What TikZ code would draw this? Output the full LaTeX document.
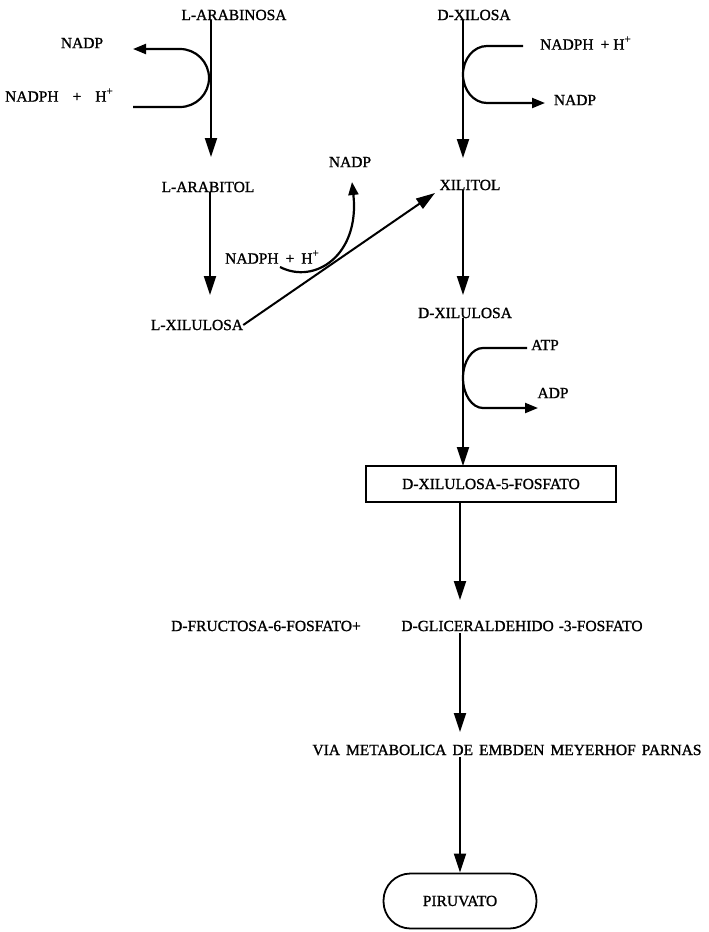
\documentclass[tikz,border=0pt]{standalone}
\usepackage{fontspec}
\setmainfont{Liberation Serif}[BoldFont=Liberation Serif, BoldFeatures={FakeBold=1.2}]
\usetikzlibrary{arrows.meta}
\newcommand{\wsp}{\hspace{6pt}}
\newcommand{\supplus}{\raisebox{7pt}{\fontsize{11}{11}\selectfont+}}
\begin{document}
\begin{tikzpicture}[x=1pt,y=1pt,
  lbl/.style={inner sep=0pt, font=\fontsize{15.5}{18}\selectfont\bfseries},
  arr/.style={line width=2pt, -{Triangle[length=19pt,width=12pt]}},
  sarr/.style={line width=2.2pt, -{Triangle[length=13pt,width=10pt]}},
  boxst/.style={lbl, draw, line width=1.8pt},
  ]
\useasboundingbox (0,0) rectangle (709,-932);
% main labels
\node[lbl] (arabinosa) at (234,-15) {L-ARABINOSA};
\node[lbl] (arabitol)  at (208,-187) {L-ARABITOL};
\node[lbl] (lxil)      at (197,-325) {L-XILULOSA};
\node[lbl] (xilosa)    at (474,-15) {D-XILOSA};
\node[lbl] (xilitol)   at (470,-185) {XILITOL};
\node[lbl] (dxil)      at (465,-313) {D-XILULOSA};
\node[boxst, minimum width=250pt, minimum height=36pt] (x5p) at (491,-484) {D-XILULOSA-5-FOSFATO};
\node[lbl] (fruc)      at (266,-626) {D-FRUCTOSA-6-FOSFATO+};
\node[lbl] (glic)      at (522,-626) {D-GLICERALDEHIDO\hspace{5pt}-3-FOSFATO};
\node[lbl] (via) at (507,-750) {VIA\wsp METABOLICA\wsp DE\wsp EMBDEN\wsp MEYERHOF\wsp PARNAS};
\node[boxst, rounded corners=27pt, minimum width=153pt, minimum height=55pt] (pir) at (460,-901) {PIRUVATO};
% cofactor labels
\node[lbl] (nadp1) at (82,-43) {NADP};
\node[lbl, anchor=west] (nadph1) at (5,-95) {NADPH\hspace{14pt}+\hspace{14pt}H\supplus};
\node[lbl, anchor=west] (nadph2) at (540,-43) {NADPH\hspace{7pt}+\hspace{4pt}H\supplus};
\node[lbl] (nadp2) at (575,-100) {NADP};
\node[lbl] (nadp3) at (350,-162) {NADP};
\node[lbl, anchor=west] (nadph3) at (225,-257) {NADPH\hspace{7pt}+\hspace{7pt}H\supplus};
\node[lbl] (atp) at (545,-345) {ATP};
\node[lbl] (adp) at (553,-393) {ADP};
% tip coordinates
\coordinate (t1) at (211,-157);
\coordinate (t2) at (210,-295);
\coordinate (t3) at (463,-158);
\coordinate (t4) at (463,-295);
\coordinate (t5) at (463,-466);
\coordinate (t6) at (460,-600);
\coordinate (t7) at (460,-732);
\coordinate (t9) at (435,-193);
% main arrows
\draw[arr] (arabinosa.south -| t1) -- (t1);
\draw[arr] (arabitol.south -| t2) -- (t2);
\draw[arr] (lxil.east) -- (t9);
\draw[arr] (xilosa.south -| t3) -- (t3);
\draw[arr] (xilitol.south -| t4) -- (t4);
\draw[arr] (dxil.south -| t5) -- (t5);
\draw[arr] (x5p.south -| t6) -- (t6);
\draw[arr] ([yshift=-2pt]glic.south -| t7) -- (t7);
\draw[arr] ([yshift=-2pt]via.south -| t7) -- (pir.north -| t7);
% cofactor arrows
\coordinate (c1s) at (133,-107);
\coordinate (c1e) at (133,-49);
\draw[sarr] (c1s) -- (180,-107) arc[start angle=-90,end angle=90,radius=29] -- (c1e);
\coordinate (c2s) at (523,-46);
\coordinate (c2e) at (545,-103);
\draw[sarr] (c2s) -- (487,-46) arc[start angle=90,end angle=270,x radius=24,y radius=28.5] -- (c2e);
\coordinate (c3s) at (527,-348);
\coordinate (c3e) at (538,-408);
\draw[sarr] (c3s) -- (483,-348) arc[start angle=90,end angle=270,x radius=20,y radius=30] -- (c3e);
\coordinate (c4s) at (280,-267);
\coordinate (c4e) at (352,-182);
\draw[sarr] (c4s) .. controls (315,-285) and (360,-255) .. (c4e);
\end{tikzpicture}
\end{document}
